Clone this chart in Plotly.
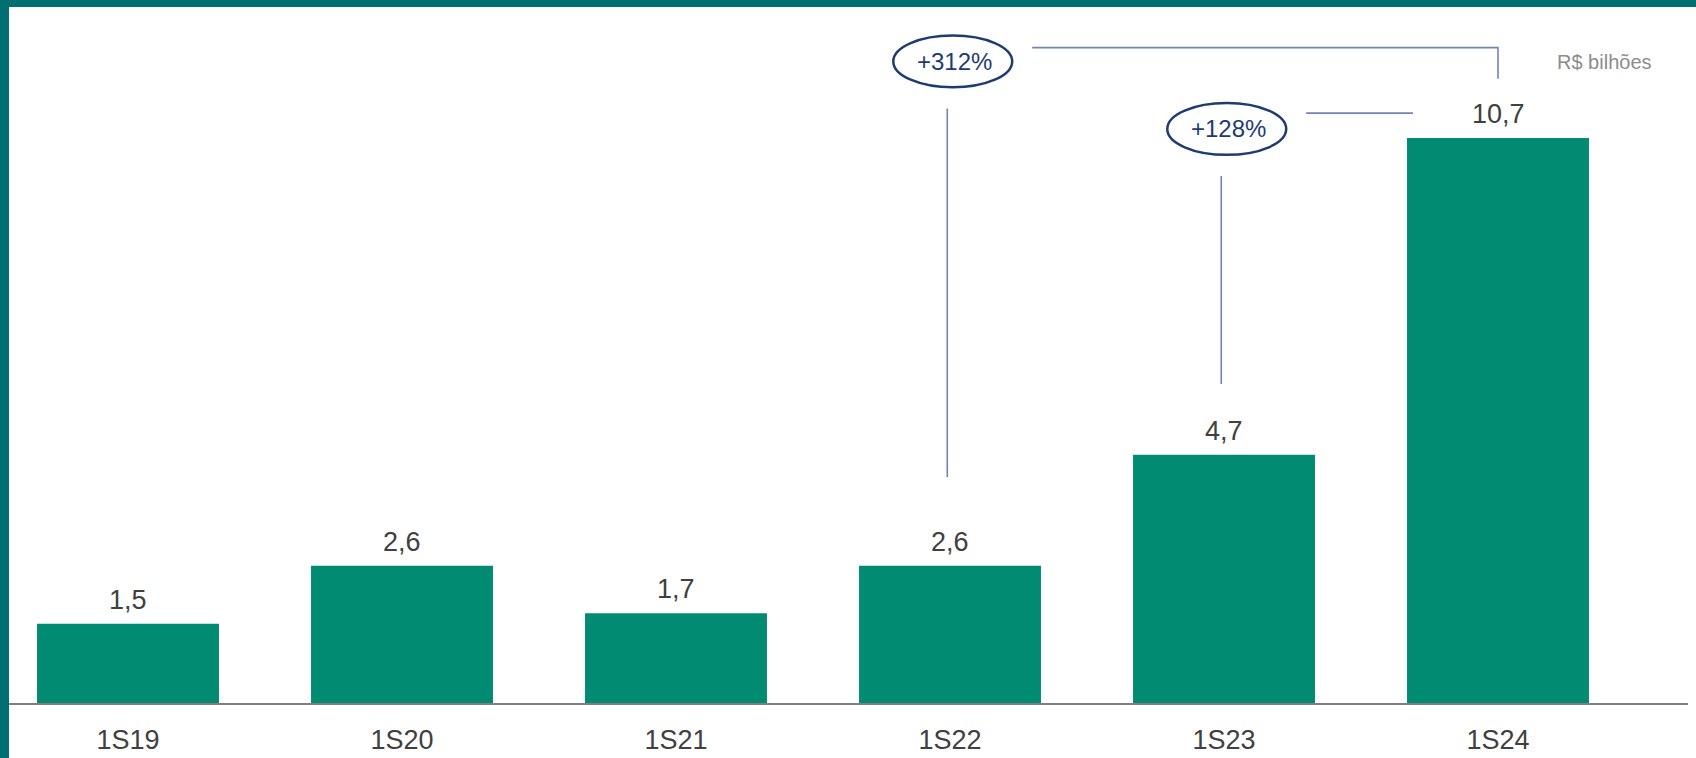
import plotly.graph_objects as go

# ---- data ----
categories = ["1S19", "1S20", "1S21", "1S22", "1S23", "1S24"]
values = [1.5, 2.6, 1.7, 2.6, 4.7, 10.7]
value_labels = ["1,5", "2,6", "1,7", "2,6", "4,7", "10,7"]
growth_labels = ["+312%", "+128%"]
growth_from = ["1S22", "1S23"]
growth_to = ["1S24", "1S24"]
unit_label = "R$ bilhões"

# ---- style ----
BORDER = "#006F72"
BAR = "#008B72"
TXT = "#404040"
NAVY = "#1F3B70"
CONN = "#6F87AE"
FONT = "Liberation Sans, Arial, sans-serif"

W, H = 1696, 758
ML, MR, MT, MB = 9, 8, 7, 55
PW = W - ML - MR
PH = H - MT - MB
X_RANGE = [-0.4343, 5.6934]
Y_RANGE = [0, 13.18]

idx = {c: i for i, c in enumerate(categories)}

fig = go.Figure()
fig.add_trace(go.Bar(
    x=categories, y=values, marker=dict(color=BAR, line=dict(width=0)),
    hoverinfo="skip", showlegend=False,
))

annotations = []
for c, v, lab in zip(categories, values, value_labels):
    annotations.append(dict(x=c, y=v, text=lab, showarrow=False, xref="x", yref="y",
                            yanchor="bottom", yshift=7,
                            font=dict(family=FONT, size=27, color=TXT)))

shapes = []
# teal frame (top and left)
shapes.append(dict(type="rect", xref="paper", yref="paper",
                   x0=-ML / PW, x1=0, y0=-MB / PH, y1=1 + MT / PH,
                   fillcolor=BORDER, line=dict(width=0), layer="above"))
shapes.append(dict(type="rect", xref="paper", yref="paper",
                   x0=-ML / PW, x1=1 + MR / PW, y0=1, y1=1 + MT / PH,
                   fillcolor=BORDER, line=dict(width=0), layer="above"))

# growth callouts (first: long bracket, second: short)
ell_y = [12.15, 10.87]
ell_hw = 0.217
ell_hh = 0.49
for k, (lab, a, b) in enumerate(zip(growth_labels, growth_from, growth_to)):
    xa = idx[a] + 0.01
    xb = idx[b]
    ya = values[idx[a]]
    yc = ell_y[k]
    # ellipse
    shapes.append(dict(type="circle", xref="x", yref="y",
                       x0=xa - ell_hw, x1=xa + ell_hw, y0=yc - ell_hh, y1=yc + ell_hh,
                       line=dict(color=NAVY, width=2.5)))
    annotations.append(dict(x=xa + 0.005, y=yc, text=lab, showarrow=False, xref="x", yref="y",
                            font=dict(family=FONT, size=24, color=NAVY)))
    # vertical line from under the ellipse down toward the base bar
    shapes.append(dict(type="line", xref="x", yref="y",
                       x0=xa - 0.02, x1=xa - 0.02, y0=yc - ell_hh - 0.4, y1=ya + 1.68 if k == 0 else ya + 1.34,
                       line=dict(color=CONN, width=1.6)))
    if k == 0:
        yl = yc + 0.26
        shapes.append(dict(type="path", xref="x", yref="y",
                           path=f"M {xa + 0.29},{yl} L {xb},{yl} L {xb},{yl - 0.59}",
                           line=dict(color=CONN, width=1.6)))
    else:
        yl = yc + 0.30
        shapes.append(dict(type="line", xref="x", yref="y",
                           x0=xa + 0.29, x1=xb - 0.31, y0=yl, y1=yl,
                           line=dict(color=CONN, width=1.6)))

annotations.append(dict(x=5.39, y=12.14, text=unit_label, showarrow=False, xref="x", yref="y",
                        font=dict(family=FONT, size=20, color="#8C8C8C")))

fig.update_layout(
    width=W, height=H,
    margin=dict(l=ML, r=MR, t=MT, b=MB, pad=0),
    paper_bgcolor="white", plot_bgcolor="white",
    bargap=0.336,
    shapes=shapes, annotations=annotations,
    xaxis=dict(type="category", range=X_RANGE, showgrid=False, zeroline=False,
               showline=True, linecolor="#7F7F7F", linewidth=2, ticks="",
               tickfont=dict(family=FONT, size=27, color=TXT), ticklabelstandoff=12,
               automargin=False, fixedrange=True),
    yaxis=dict(range=Y_RANGE, visible=False, showgrid=False, zeroline=False,
               automargin=False, fixedrange=True),
    font=dict(family=FONT),
)

fig.write_html("out.html", config={"displayModeBar": False},
               post_script="document.body.style.margin='0';document.body.style.overflow='hidden';")
